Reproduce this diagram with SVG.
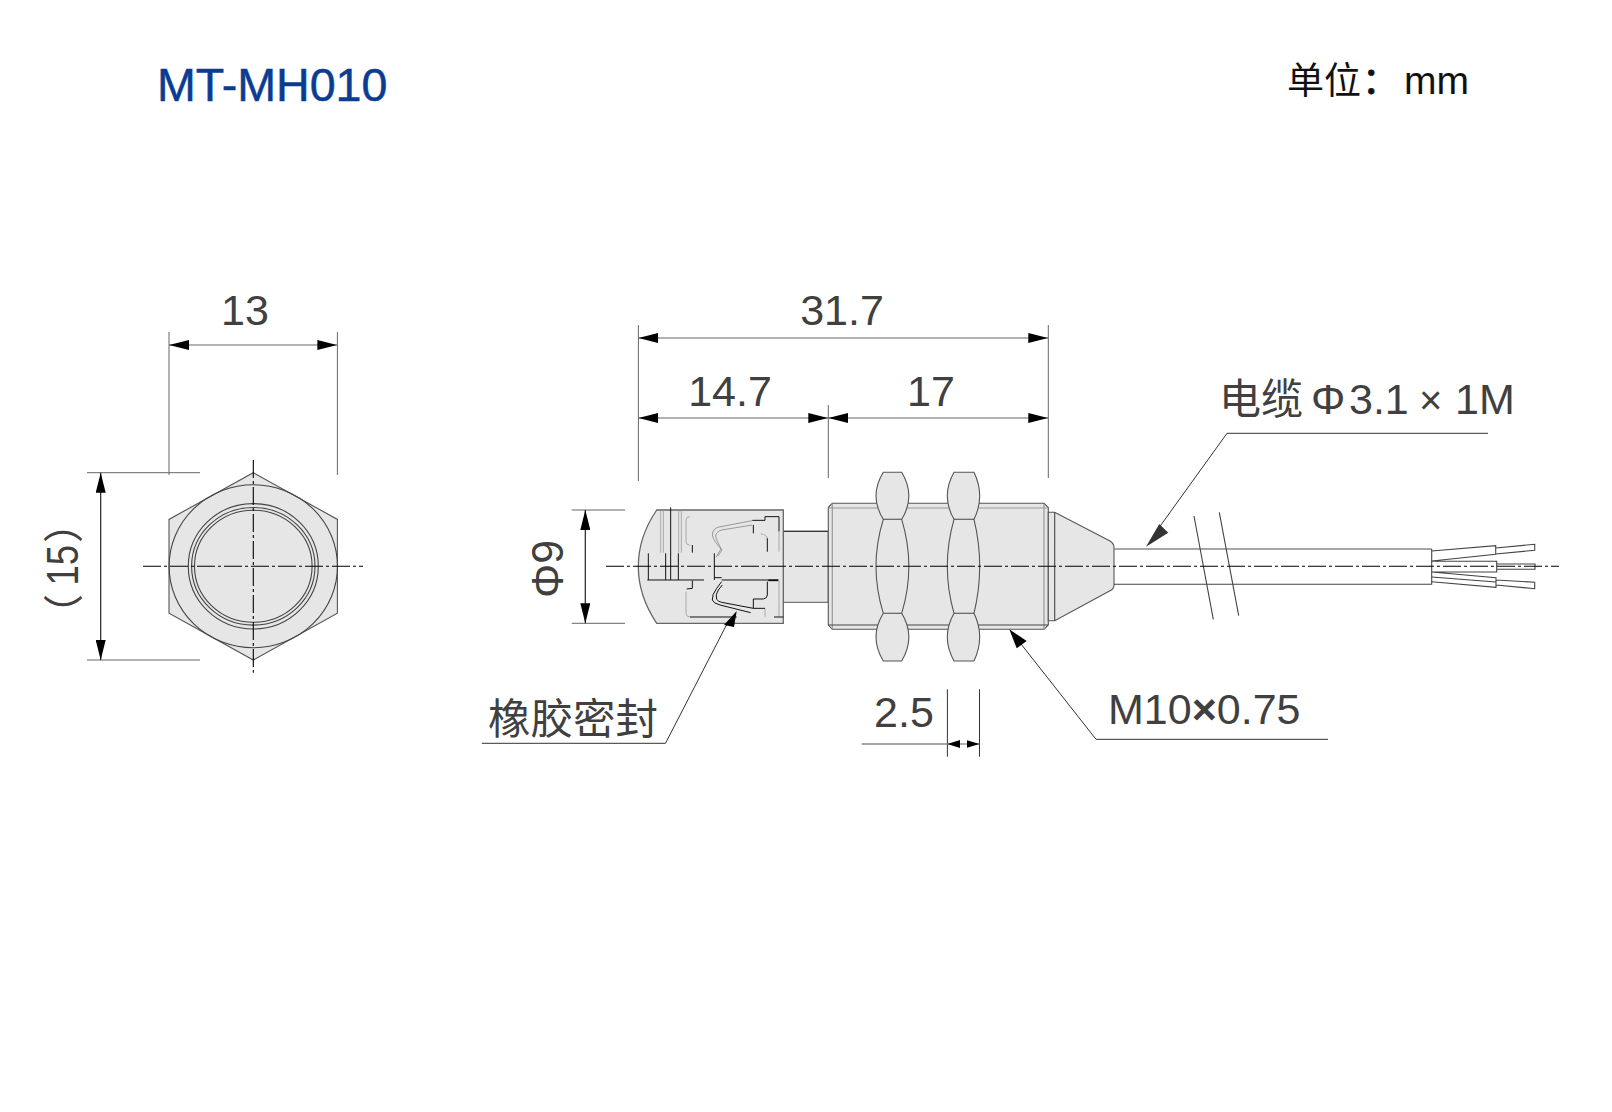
<svg xmlns="http://www.w3.org/2000/svg" width="1612" height="1112" viewBox="0 0 1612 1112">
<style>
text{font-family:"Liberation Sans",Arial,"Noto Sans CJK SC",sans-serif;fill:#404040;font-size:43px}
.cjk{font-family:"Noto Sans CJK SC","Liberation Sans",sans-serif}
.part{fill:#e6e6e6;stroke:#555;stroke-width:1.1}
.line{fill:none;stroke:#444;stroke-width:1.1}
.ext{fill:none;stroke:#666;stroke-width:1}
.dim{fill:none;stroke:#666;stroke-width:1.2}
.lead{fill:none;stroke:#333;stroke-width:1}
.ctr{fill:none;stroke:#000;stroke-width:1.1;stroke-dasharray:18 3 3 3}
.b{fill:none;stroke:#111;stroke-width:3}
.g{fill:none;stroke:#999;stroke-width:3}
</style>
<defs>
<marker id="arr" viewBox="0 0 20 10" refX="20" refY="5" markerWidth="20" markerHeight="10" markerUnits="userSpaceOnUse" orient="auto-start-reverse"><path d="M0 0L20 5L0 10Z" fill="#000"/></marker>
<marker id="arrS" viewBox="0 0 13 8" refX="13" refY="4" markerWidth="13" markerHeight="8" markerUnits="userSpaceOnUse" orient="auto-start-reverse"><path d="M0 0L13 4L0 8Z" fill="#000"/></marker>
</defs>

<g id="title"><text x="157" y="101" style="font-size:46.6px;fill:#0a3d91;stroke:#0a3d91;stroke-width:.5">MT-MH010</text></g>
<g id="unit"><text class="cjk" x="1287" y="94" style="font-size:37px;fill:#111">单位</text><text class="cjk" x="1362" y="94" style="font-size:37px;fill:#111;stroke:#111;stroke-width:.8">：</text><text x="1404" y="94" style="font-size:39px;fill:#111">mm</text></g>

<g id="front-view">
<path class="part" d="M253.3 472.7L337.4 519.4V613.3L253.3 660L169 613.3V519.4Z"/>
<ellipse class="line" cx="253.3" cy="566.3" rx="84.2" ry="81.5"/>
<ellipse class="line" cx="253.3" cy="566.3" rx="65" ry="62.7"/>
<ellipse class="line" cx="253.3" cy="566.3" rx="61.7" ry="58.8"/>
<ellipse class="line" cx="253.3" cy="566.3" rx="58.8" ry="56"/>
</g>

<g id="sensor-section">
<path class="part" style="stroke:#777;stroke-width:1.3" d="M783.3 531.3H828.3V602.3H783.3Z"/>
<path d="M783.3 531.3H828.3" class="line" style="stroke:#222"/>
<path class="part" style="stroke:#666;stroke-width:1.3" d="M656.7 510H783.3V623.3H656.7Q638.3 596 638.3 566.6Q638.3 537 656.7 510Z"/>
<g transform="translate(520 470) scale(.33333)">
<path class="g" style="stroke:#aaa" d="M422 122V248M430 122V248M476 122V248M484 122V248M510 140Q498 140 498 150V215Q498 225 510 226M498 365V430Q498 440 510 441M777 184V245M722 192Q742 192 742 210M735 415V440M777 332V440"/>
<path class="g" d="M697 152L597 171Q578 175 577 195Q580 212 603 237L588 262M697 165L605 180Q588 185 587 198Q590 214 606 240L594 258"/>
<path class="b" d="M452 112V330M385 250V330M437 250V330M475 250V330M382 330H552M517 225V248M517 332V355L500 357M510 441H650M583 250V330M583 323H605M605 330H775M697 151H735V140H777V184M700 165V190M742 205V245M742 335V375Q742 385 730 387H700V415H735M762 441H790"/>
<path d="M745 331H775" class="b" style="stroke-width:5"/>
<path class="b" d="M605 335L590 355Q575 375 577 390Q580 400 600 405L692 428M607 345L595 360Q585 375 590 388Q595 395 605 397L700 415"/>
</g>
</g>

<g id="sensor-body">
<path class="part" d="M828.3 507.5L832.3 503.3H1044L1048.3 507.5V625L1044 629.3H832.3L828.3 625Z"/>
<path class="g" style="stroke-width:1.2" d="M832.3 503.8V629M828.5 508H1048M1044 504V629"/>
<path class="line" d="M828.3 625H1048"/>
</g>
<g id="nut-1">
<path class="part" d="M883.3 472.3Q868.7 496 883.3 519.3Q868.7 566.3 883.3 613.3Q868.7 637 883.3 661H901.7Q916 637 901.7 613.3Q916 566.3 901.7 519.3Q916 496 901.7 472.3Z"/>
<path class="line" d="M883.3 519.3H901.7M883.3 613.3H901.7"/>
</g>
<g id="nut-2">
<path class="part" d="M954 472.3Q940.6 496 954 519.3Q940.6 566.3 954 613.3Q940.6 637 954 661H974Q985.4 637 974 613.3Q985.4 566.3 974 519.3Q985.4 496 974 472.3Z"/>
<path class="line" d="M954 519.3H974M954 613.3H974"/>
</g>
<g id="cone">
<path class="part" d="M1048.3 512.3H1054.7L1110 541Q1114 543.5 1114 547.5V585Q1114 589 1110 590.7L1054.7 620.7H1048.3Z"/>
<path class="line" d="M1054.7 512.3V620.7"/>
</g>
<g id="cable">
<path d="M1114 549H1431.7" fill="none" stroke="#888" stroke-width="1.4"/>
<path class="line" d="M1114 584.3H1431.7V549"/>
<path class="line" d="M1194 516L1213.3 619.3M1219.3 512.3L1238.7 615.7"/>
</g>
<g id="wires">
<path class="line" d="M1431.7 551L1495.7 545.7V554.3L1431.7 561M1495.7 548L1534.7 544.3V550.3L1495.7 554M1431.7 561.3H1496.7V572H1431.7M1496.7 564H1535V569.3H1496.7M1431.7 572L1496 577.7V587.3L1431.7 581.7M1431.7 577L1496 582M1496 580L1534.7 582.3V588.7L1496 585"/>
</g>

<g id="connectors">
<path class="ctr" d="M143 566.3H363"/><path class="ctr" d="M253.3 460V672.7"/>
<path class="ctr" d="M606 566.3H1559"/>

<path class="ext" d="M169 332V475M337.4 332V475M87 472.7H200M87 660H200"/>
<path class="dim" d="M169 345H337.4" marker-start="url(#arr)" marker-end="url(#arr)"/>
<path class="dim" style="stroke:#222" d="M100.7 472.7V660" marker-start="url(#arr)" marker-end="url(#arr)"/>

<path class="ext" d="M638.4 325V481M1048.3 325V478M828.3 405V478"/>
<path class="dim" d="M638.4 338H1048.3" marker-start="url(#arr)" marker-end="url(#arr)"/>
<path class="dim" d="M638.4 418H828.3" marker-start="url(#arr)" marker-end="url(#arr)"/>
<path class="dim" d="M828.3 418H1048.3" marker-start="url(#arr)" marker-end="url(#arr)"/>

<path class="ext" d="M571.7 510H625M571.7 623.3H625"/>
<path class="dim" style="stroke:#222" d="M585.3 510V623.3" marker-start="url(#arr)" marker-end="url(#arr)"/>

<path class="ext" style="stroke:#333" d="M947.4 689.3V756.7M979.5 689.3V756.7"/>
<path class="dim" style="stroke:#888;stroke-width:1.4" d="M861.8 744H947.4"/>
<path class="dim" d="M947.4 744H979.5" marker-start="url(#arrS)" marker-end="url(#arrS)"/>

<path class="lead" d="M1488 433.3H1227L1153 536"/>
<path d="M1146 546.7L1159.3 524L1168.3 532.7Z" fill="#333"/>
<path class="lead" d="M481.8 743.3H665.5L729 620"/>
<path d="M736.7 611L724 625L734 627Z" fill="#000"/>
<path class="lead" d="M1328 739.3H1096L1021 644"/>
<path d="M1009.3 629.3L1016.7 648.3L1026.7 641Z" fill="#000"/>
</g>

<g id="labels">
<text x="245" y="325" text-anchor="middle">13</text>
<text x="842" y="325" text-anchor="middle">31.7</text>
<text x="730" y="405.5" text-anchor="middle">14.7</text>
<text x="931" y="405.5" text-anchor="middle">17</text>
<text x="904" y="727" text-anchor="middle">2.5</text>
<text x="1108" y="724">M10<tspan font-weight="700">×</tspan>0.75</text>
<text class="cjk" x="488" y="734" style="font-size:42.5px">橡胶密封</text>
<text class="cjk" x="1219" y="414" style="font-size:42px">电缆</text>
<text x="1311" y="414">Φ</text><text x="1349" y="414">3.1</text><text x="1419" y="414" style="font-size:40px">×</text><text x="1455" y="414">1M</text>
<text transform="translate(563.3 598) rotate(-90) scale(1 1.03)">Φ9</text>
<text transform="translate(78 585.6) rotate(-90) scale(.85 1.03)">15</text>
<text class="cjk" transform="translate(78 634) rotate(-90)" style="font-size:40px">（</text>
<text class="cjk" transform="translate(78 543) rotate(-90)" style="font-size:40px">）</text>
</g>
</svg>
